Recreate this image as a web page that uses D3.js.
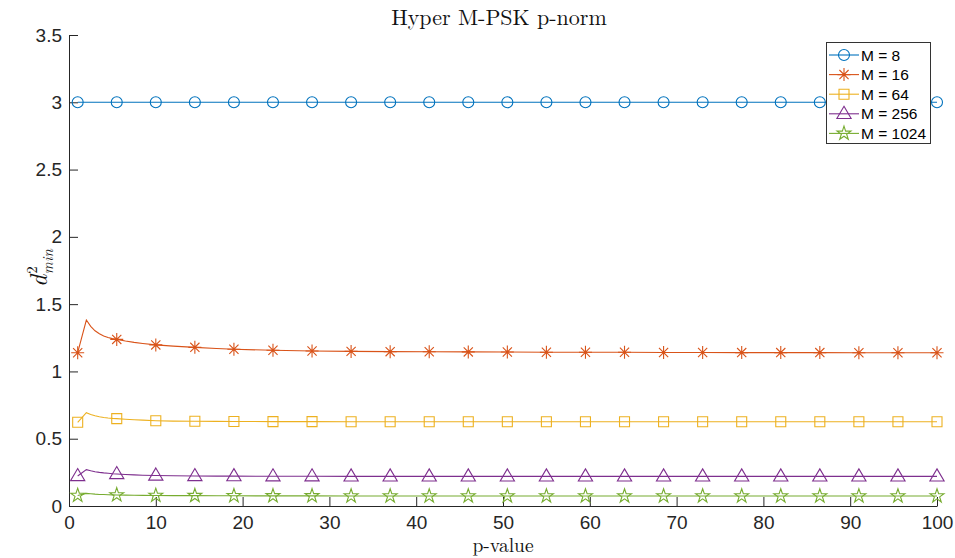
<!DOCTYPE html>
<html>
<head>
<meta charset="utf-8">
<script src="https://cdn.jsdelivr.net/npm/d3@7"></script>
<style>
  html, body { margin: 0; padding: 0; background: #fff; }
  svg { display: block; }
</style>
</head>
<body>
<svg id="chart" width="955" height="558"></svg>
<script>
// p-norm sample points
const pValues = [1, 2, 2.5, 3, 3.5, 4, 4.5, 5, 5.5, 6.5, 7.5, 8.5, 10, 12, 14.5, 17, 19, 23.5, 28,
  32.5, 37, 41.5, 46, 50.5, 55, 59.5, 64, 68.5, 73, 77.5, 82, 86.5, 91, 95.5, 100];
// p values where a marker is shown
const markerP = [1, 5.5, 10, 14.5, 19, 23.5, 28, 32.5, 37, 41.5, 46, 50.5, 55, 59.5, 64, 68.5,
  73, 77.5, 82, 86.5, 91, 95.5, 100];

const seriesNames = ["M = 8", "M = 16", "M = 64", "M = 256", "M = 1024"];

const dM8 = [3, 3, 3, 3, 3, 3, 3, 3, 3, 3, 3, 3, 3, 3, 3, 3, 3, 3, 3,
  3, 3, 3, 3, 3, 3, 3, 3, 3, 3, 3, 3, 3, 3, 3, 3];
const dM16 = [1.139, 1.382, 1.335, 1.302, 1.280, 1.264, 1.252, 1.244, 1.238, 1.226, 1.216, 1.208,
  1.197, 1.188, 1.179, 1.170, 1.165, 1.157, 1.152, 1.149, 1.147, 1.146, 1.145, 1.144, 1.143,
  1.142, 1.142, 1.141, 1.141, 1.140, 1.140, 1.140, 1.139, 1.139, 1.139];
const dM64 = [0.622, 0.693, 0.680, 0.670, 0.663, 0.658, 0.654, 0.651, 0.649, 0.645, 0.641, 0.638,
  0.634, 0.631, 0.630, 0.629, 0.628, 0.627, 0.627, 0.626, 0.626, 0.626, 0.626, 0.626, 0.626,
  0.626, 0.626, 0.626, 0.626, 0.626, 0.626, 0.626, 0.626, 0.626, 0.626];
const dM256 = [0.223, 0.270, 0.262, 0.255, 0.250, 0.246, 0.243, 0.240, 0.238, 0.234, 0.231, 0.229,
  0.227, 0.225, 0.223, 0.222, 0.222, 0.221, 0.221, 0.220, 0.220, 0.220, 0.220, 0.220, 0.220,
  0.220, 0.220, 0.220, 0.220, 0.220, 0.220, 0.220, 0.220, 0.220, 0.220];
const dM1024 = [0.078, 0.094, 0.091, 0.088, 0.086, 0.085, 0.084, 0.083, 0.082, 0.081, 0.080, 0.079,
  0.078, 0.077, 0.077, 0.076, 0.076, 0.075, 0.075, 0.074, 0.074, 0.074, 0.074, 0.074, 0.074,
  0.074, 0.074, 0.074, 0.074, 0.074, 0.074, 0.074, 0.074, 0.074, 0.074];

const xTicks = [0, 10, 20, 30, 40, 50, 60, 70, 80, 90, 100];
const yTicks = [0, 0.5, 1, 1.5, 2, 2.5, 3, 3.5];

const colors = ["#0072BD", "#D95319", "#EDB120", "#7E2F8E", "#77AC30"];
const markerKinds = ["circle", "asterisk", "square", "triangle", "star"];
const seriesData = [dM8, dM16, dM64, dM256, dM1024];

const svg = d3.select("#chart");
const plotLeft = 69, plotRight = 937, plotTop = 35, plotBottom = 506;

const x = d3.scaleLinear().domain([0, 100]).range([plotLeft, plotRight]);
const y = d3.scaleLinear().domain([0, 3.5]).range([plotBottom, plotTop]);

const axisColor = "#262626";
const tickFont = "'Liberation Sans', Arial, Helvetica, sans-serif";
const serifFont = "'Latin Modern Roman', 'CMU Serif', 'Liberation Serif', 'Times New Roman', serif";

// axes with inward ticks
const xAxis = svg.append("g").attr("transform", `translate(0,${plotBottom})`)
  .call(d3.axisBottom(x).tickValues(xTicks).tickFormat(d3.format("d")).tickSizeInner(-9).tickSizeOuter(0).tickPadding(10));
const yAxis = svg.append("g").attr("transform", `translate(${plotLeft},0)`)
  .call(d3.axisLeft(y).tickValues(yTicks).tickFormat(d => String(d)).tickSizeInner(-9).tickSizeOuter(0).tickPadding(7));

[xAxis, yAxis].forEach(g => {
  g.select(".domain").attr("stroke", axisColor).attr("stroke-width", 1);
  g.selectAll(".tick line").attr("stroke", axisColor).attr("stroke-width", 1);
  g.selectAll(".tick text").attr("fill", axisColor)
    .style("font-family", tickFont).style("font-size", "19px");
});
xAxis.selectAll(".tick text").attr("dy", "0.71em");

// marker shapes
function markerPath(kind) {
  switch (kind) {
    case "circle": return d3.symbol(d3.symbolCircle, Math.PI * 5.5 * 5.5)();
    case "square": return d3.symbol(d3.symbolSquare, 10 * 10)();
    case "triangle": {
      const r = 7.5;
      return `M0,${-r}L${r * 0.95},${r * 0.62}L${-r * 0.95},${r * 0.62}Z`;
    }
    case "star": return d3.symbol(d3.symbolStar, 60)();
    case "asterisk": {
      const a = 6.5, b = a * 0.707;
      return `M${-a},0L${a},0M0,${-a}L0,${a}M${-b},${-b}L${b},${b}M${-b},${b}L${b},${-b}`;
    }
  }
}

const line = d3.line().x(d => x(d[0])).y(d => y(d[1]));
const plot = svg.append("g");

seriesData.forEach((vals, i) => {
  const pts = pValues.map((p, k) => [p, vals[k]]);
  const g = plot.append("g");
  g.append("path").datum(pts).attr("d", line)
    .attr("fill", "none").attr("stroke", colors[i]).attr("stroke-width", 1.1);
  g.selectAll("path.mk").data(pts.filter(d => markerP.includes(d[0])))
    .enter().append("path").attr("class", "mk")
    .attr("transform", d => `translate(${x(d[0])},${y(d[1])})`)
    .attr("d", markerPath(markerKinds[i]))
    .attr("fill", "none").attr("stroke", colors[i]).attr("stroke-width", 1.1);
});

// title and axis labels
svg.append("text").attr("x", 499).attr("y", 25).attr("text-anchor", "middle")
  .style("font-family", serifFont).style("font-size", "22px").attr("fill", "#111")
  .text("Hyper M-PSK p-norm");
svg.append("text").attr("x", 503).attr("y", 552).attr("text-anchor", "middle")
  .style("font-family", serifFont).style("font-size", "19.5px").attr("fill", "#111")
  .text("p-value");

const yl = svg.append("text").attr("transform", "translate(47,268) rotate(-90)")
  .attr("text-anchor", "middle")
  .style("font-family", serifFont).attr("fill", "#111");
yl.append("tspan").style("font-size", "24px").style("font-style", "italic").text("d");
yl.append("tspan").style("font-size", "15px").attr("dy", -10).attr("dx", 1).text("2");
yl.append("tspan").style("font-size", "15px").style("font-style", "italic").attr("dy", 16).attr("dx", -8).text("min");

// legend
const lg = svg.append("g");
lg.append("rect").attr("x", 826.5).attr("y", 42.5).attr("width", 104).attr("height", 101)
  .attr("fill", "#fff").attr("stroke", "#333").attr("stroke-width", 1);
seriesNames.forEach((name, i) => {
  const cy = 55 + i * 19.6;
  lg.append("line").attr("x1", 829).attr("x2", 859).attr("y1", cy).attr("y2", cy)
    .attr("stroke", colors[i]).attr("stroke-width", 1.1);
  lg.append("path").attr("transform", `translate(844,${cy})`).attr("d", markerPath(markerKinds[i]))
    .attr("fill", "none").attr("stroke", colors[i]).attr("stroke-width", 1.1);
  lg.append("text").attr("x", 861).attr("y", cy).attr("dy", "0.36em")
    .style("font-family", tickFont).style("font-size", "15.5px").attr("fill", "#000")
    .text(name);
});
</script>
</body>
</html>
